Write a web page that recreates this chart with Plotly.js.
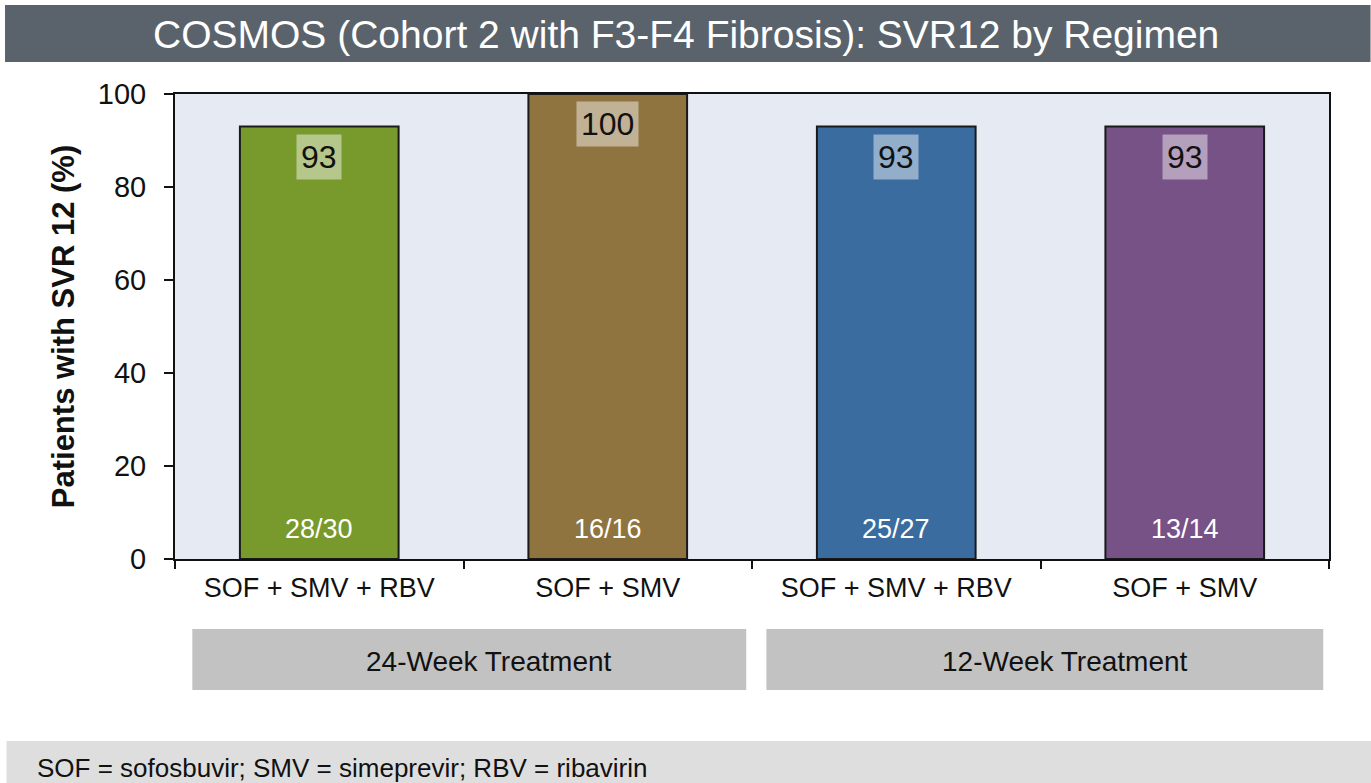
<!DOCTYPE html>
<html>
<head>
<meta charset="utf-8">
<script src="https://cdn.plot.ly/plotly-3.0.1.min.js"></script>
<style>
html,body{margin:0;padding:0;background:#fff;}
#chart{width:1371px;height:783px;}
</style>
</head>
<body>
<div id="chart"></div>
<script>
const regimens = ["SOF + SMV + RBV", "SOF + SMV", "SOF + SMV + RBV", "SOF + SMV"];
const svr12 = [93, 100, 93, 93];
const counts = ["28/30", "16/16", "25/27", "13/14"];
const barColors = ["#789a2c", "#8f7440", "#3a6ca0", "#775287"];
const groups = ["24-Week Treatment", "12-Week Treatment"];
const groupMembers = [[0, 1], [2, 3]];
const titleText = "COSMOS (Cohort 2 with F3-F4 Fibrosis): SVR12 by Regimen";
const footnote = "SOF = sofosbuvir; SMV = simeprevir; RBV = ribavirin";
const yTicks = [0, 20, 40, 60, 80, 100];

const idx = regimens.map((_, i) => i);
const FONT = "Arial, 'Liberation Sans', sans-serif";

const traces = [{
  type: "bar",
  x: idx,
  y: svr12,
  width: 0.55,
  marker: {color: barColors, line: {color: "#1a1a1a", width: 2}},
  hoverinfo: "skip",
  showlegend: false
}, {
  type: "scatter",
  x: [-0.5, 3.5],
  y: [0, 0],
  xaxis: "x2",
  mode: "none",
  hoverinfo: "skip",
  showlegend: false
}];

const annotations = [];
idx.forEach(i => {
  annotations.push({
    x: i, y: svr12[i], xref: "x", yref: "y",
    text: String(svr12[i]), showarrow: false,
    yanchor: "top", yshift: -7,
    font: {family: FONT, size: 32, color: "#111"},
    bgcolor: "rgba(255,255,255,0.45)", borderpad: 4
  });
  annotations.push({
    x: i, y: 0, xref: "x", yref: "y",
    text: counts[i], showarrow: false,
    yanchor: "bottom", yshift: 13,
    font: {family: FONT, size: 27, color: "#ffffff"}
  });
});

const shapes = [
  {type: "rect", xref: "paper", yref: "paper", x0: -0.1473, x1: 1.036, y0: 1.0688, y1: 1.1914,
   fillcolor: "#5a636b", line: {width: 0}, layer: "below"},
  {type: "rect", xref: "paper", yref: "paper", x0: -0.146, x1: 1.04, y0: -0.8, y1: -0.3914,
   fillcolor: "#dedede", line: {width: 0}, layer: "below"}
];

groups.forEach((g, k) => {
  const m = groupMembers[k];
  const x0 = Math.min(...m) - 0.44 + (k === 1 ? -0.01 : 0);
  const x1 = Math.max(...m) + 0.48;
  shapes.push({type: "rect", xref: "x", yref: "paper", x0: x0, x1: x1, y0: -0.2817, y1: -0.1505,
    fillcolor: "#c2c2c2", line: {width: 0}});
  annotations.push({x: (x0 + x1) / 2, y: (-0.2817 + -0.1505) / 2 - 0.004, xref: "x", yref: "paper",
    text: g, showarrow: false, yanchor: "middle", xshift: 20,
    font: {family: FONT, size: 28, color: "#111"}});
});

annotations.push({x: 0.4428, y: 1.1269, xref: "paper", yref: "paper",
  text: titleText, showarrow: false, yanchor: "middle",
  font: {family: FONT, size: 39, color: "#ffffff"}});
annotations.push({x: -0.1213, y: -0.4495, xref: "paper", yref: "paper",
  text: footnote, showarrow: false, xanchor: "left", yanchor: "middle",
  font: {family: FONT, size: 26, color: "#111"}});

const layout = {
  width: 1371, height: 783,
  margin: {l: 175, r: 42, t: 94, b: 224},
  paper_bgcolor: "#ffffff",
  plot_bgcolor: "#e6eaf2",
  font: {family: FONT, color: "#111"},
  xaxis: {
    range: [-0.5, 3.5], tickmode: "array", tickvals: idx, ticktext: regimens,
    ticks: "", showgrid: false, zeroline: false,
    showline: true, linecolor: "#111", linewidth: 2, mirror: true,
    tickfont: {family: FONT, size: 27, color: "#111"}, ticklabelstandoff: 4, fixedrange: true
  },
  xaxis2: {
    overlaying: "x", anchor: "y", side: "bottom",
    range: [-0.5, 3.5], tickmode: "array", tickvals: [-0.5, 0.5, 1.5, 2.5, 3.5],
    showticklabels: false, ticks: "outside", ticklen: 9, tickwidth: 2, tickcolor: "#111",
    showgrid: false, zeroline: false, showline: false
  },
  yaxis: {
    range: [0, 100], tickmode: "array", tickvals: yTicks,
    ticks: "outside", ticklen: 9, tickwidth: 2, tickcolor: "#111",
    showgrid: false, zeroline: false,
    showline: true, linecolor: "#111", linewidth: 2, mirror: true,
    tickfont: {family: FONT, size: 29, color: "#111"}, ticklabelstandoff: 12,
    title: {text: "<b>Patients with SVR 12 (%)</b>", font: {family: FONT, size: 31, color: "#111"}, standoff: 14},
    fixedrange: true
  },
  shapes: shapes,
  annotations: annotations,
  showlegend: false
};

Plotly.newPlot("chart", traces, layout, {displayModeBar: false, staticPlot: true});
</script>
</body>
</html>
